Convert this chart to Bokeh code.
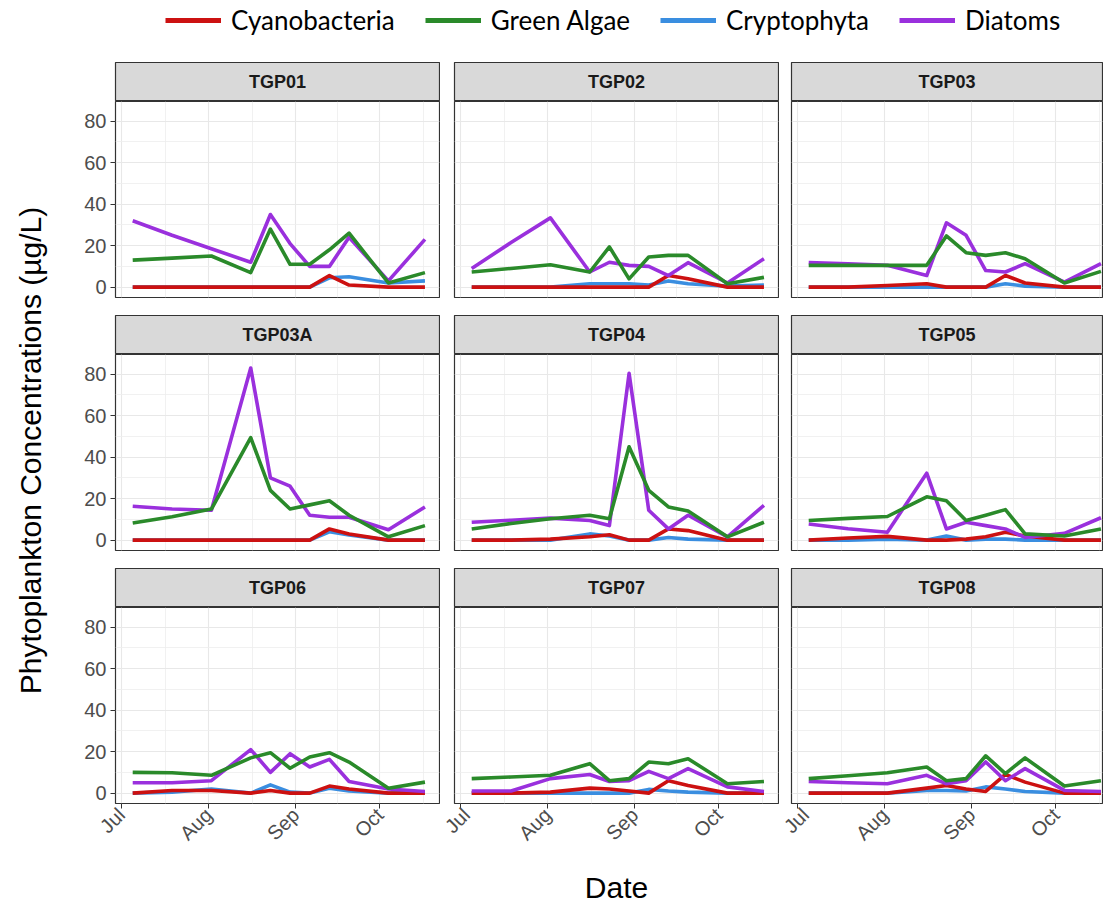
import pandas as pd
from math import pi
from bokeh.plotting import figure
from bokeh.layouts import column, row
from bokeh.models import (ColumnDataSource, FixedTicker, DatetimeTickFormatter, Grid,
                          Range1d, Legend, LegendItem)
from bokeh.core.properties import value
from bokeh.embed import file_html
from bokeh.resources import INLINE

# ---------------- data ----------------
SITES = ["TGP01", "TGP02", "TGP03", "TGP03A", "TGP04", "TGP05", "TGP06", "TGP07", "TGP08"]
DATES = ["2019-07-05", "2019-07-19", "2019-08-02", "2019-08-16", "2019-08-23", "2019-08-30",
         "2019-09-06", "2019-09-13", "2019-09-20", "2019-10-04", "2019-10-17"]
GROUPS = ["Cyanobacteria", "Green Algae", "Cryptophyta", "Diatoms"]
DRAW_ORDER = ["Cryptophyta", "Cyanobacteria", "Diatoms", "Green Algae"]
MONTH_TICKS = ["2019-07-01", "2019-08-01", "2019-09-01", "2019-10-01"]
MONTH_BOUNDS = ["2019-06-01", "2019-07-01", "2019-08-01", "2019-09-01", "2019-10-01", "2019-11-01"]
Y_TICKS = [0, 20, 40, 60, 80]
Y_MINOR = [10, 30, 50, 70]
Y_TITLE = "Phytoplankton Concentrations (µg/L)"
X_TITLE = "Date"

CYANOBACTERIA = {
    "TGP01":  [0, 0, 0, 0, 0, 0, 0, 5.6, 1, 0, 0],
    "TGP02":  [0, 0, 0, 0, 0, 0, 0, 5.6, 4, 0, 0],
    "TGP03":  [0, 0, 0.8, 1.6, 0, 0, 0, 5.6, 2, 0, 0],
    "TGP03A": [0, 0, 0, 0, 0, 0, 0, 5.4, 3, 0, 0],
    "TGP04":  [0, 0, 0.5, 1.6, 2.6, 0, 0, 5.4, 4.6, 0, 0],
    "TGP05":  [0, 1, 1.8, 0, 0, 0.5, 1.6, 3.8, 2, 0, 0],
    "TGP06":  [0, 1.3, 1.3, 0, 1.3, 0, 0, 3.4, 2, 0, 0],
    "TGP07":  [0, 0, 0.5, 2.4, 2, 1, 0, 6, 3.7, 0, 0],
    "TGP08":  [0, 0, 0, 2.4, 3.7, 2, 0.8, 9, 5.3, 0, 0],
}
GREEN_ALGAE = {
    "TGP01":  [13, 14, 15, 7, 28, 11, 11, 18, 26, 2, 7],
    "TGP02":  [7.3, 9, 10.8, 7.3, 19.4, 4, 14.5, 15.3, 15.3, 1.6, 4.7],
    "TGP03":  [10.5, 10.5, 10.5, 10.5, 24.7, 16.6, 15.3, 16.6, 13.7, 2, 7.6],
    "TGP03A": [8.3, 11.3, 15, 49.4, 24, 15, 17, 19, 12, 1.6, 7],
    "TGP04":  [5.4, 8, 10.3, 12, 10.3, 45, 24, 16, 14, 1.6, 8.6],
    "TGP05":  [9.5, 10.5, 11.4, 20.9, 19, 9.5, 12, 14.7, 3, 2, 5.4],
    "TGP06":  [10, 9.8, 8.6, 17, 19.5, 12, 17.4, 19.5, 15, 2.4, 5.3],
    "TGP07":  [7, 7.8, 8.6, 14.2, 6, 7, 15, 14.2, 16.6, 4.5, 5.6],
    "TGP08":  [7, 8.4, 9.8, 12.6, 6, 7, 18, 9.4, 17, 3.4, 6],
}
CRYPTOPHYTA = {
    "TGP01":  [0, 0, 0, 0, 0, 0, 0, 4.5, 5, 2, 3],
    "TGP02":  [0, 0, 0, 1.6, 1.6, 1.6, 1, 3, 1.6, 0.5, 1],
    "TGP03":  [0, 0, 0, 0, 0, 0, 0, 1.6, 0.5, 0, 0],
    "TGP03A": [0, 0, 0, 0, 0, 0, 0, 4, 2.5, 0, 0],
    "TGP04":  [0, 0, 0, 3, 2, 0, 0, 1.3, 0.5, 0, 0],
    "TGP05":  [0, 0, 0.5, 0, 2, 0, 0.5, 0.5, 0, 0, 0],
    "TGP06":  [0, 0.5, 2, 0, 4, 0.5, 0, 2.4, 1, 0, 0.5],
    "TGP07":  [0, 0, 0, 0, 0, 0, 1.8, 1, 0.5, 0, 0],
    "TGP08":  [0, 0, 0, 1.3, 1.3, 1, 3, 2, 0.8, 0, 0],
}
DIATOMS = {
    "TGP01":  [32, 25, 18.5, 12, 35, 21, 10, 10, 24, 3, 23],
    "TGP02":  [9, 21.5, 33.4, 7.3, 12, 10.5, 10, 5.6, 11.8, 2, 13.7],
    "TGP03":  [11.8, 11.3, 10.5, 5.6, 31, 25, 8, 7.3, 11.3, 2.4, 11.3],
    "TGP03A": [16.3, 15, 14.4, 83, 30, 26, 12, 11, 11, 5, 16],
    "TGP04":  [8.6, 9.6, 10.6, 9.5, 7, 80.4, 14.4, 5.4, 12, 1.6, 16.8],
    "TGP05":  [7.8, 5.5, 3.8, 32.3, 5.4, 8.6, 7, 5.4, 1.3, 3.3, 10.8],
    "TGP06":  [5, 5, 6, 21, 10, 19, 12.6, 16.3, 5.6, 2, 0.8],
    "TGP07":  [1, 1, 7, 9, 5.6, 6, 10.5, 7, 11.8, 3, 0.8],
    "TGP08":  [5.6, 5, 4.5, 8.6, 4.5, 6, 15, 6, 11.8, 1.3, 0.8],
}
SERIES = {"Cyanobacteria": CYANOBACTERIA, "Green Algae": GREEN_ALGAE,
          "Cryptophyta": CRYPTOPHYTA, "Diatoms": DIATOMS}
COLORS = {"Cyanobacteria": "#CC1111", "Green Algae": "#2A8A2A",
          "Cryptophyta": "#3A8EE0", "Diatoms": "#9A30DD"}

# ---------------- style / layout ----------------
FONT = "Liberation Sans"
LEG_FONT = "Lato"
YLAB_W = 60
COLS = [(55, 324, 1), (14, 324, 1), (12, 311, 1)]   # left border, frame width, right border
FRAME_H = 196
STRIP_H = 39
GAP = 18
PX_PER_DAY = 2.81

x_start = pd.Timestamp("2019-06-28 21:00")


def ms(t):
    return pd.Timestamp(t).value / 1e6


month_ms = [ms(t) for t in MONTH_TICKS]
bounds_ms = [ms(t) for t in MONTH_BOUNDS]
minor_ms = [(a + b) / 2 for a, b in zip(bounds_ms[:-1], bounds_ms[1:])]
xticker = FixedTicker(ticks=month_ms, minor_ticks=minor_ms)
yticker = FixedTicker(ticks=Y_TICKS, minor_ticks=Y_MINOR)
fmt = "%b"
xformatter = DatetimeTickFormatter(microseconds=fmt, milliseconds=fmt, seconds=fmt, minsec=fmt,
                                   minutes=fmt, hourmin=fmt, hours=fmt, days=fmt, months=fmt, years=fmt)

dates = pd.to_datetime(DATES)


def bare(p):
    p.xgrid.visible = False
    p.ygrid.visible = False
    return p


def make_strip(site, c):
    left, fw, right = COLS[c]
    s = figure(frame_width=fw, frame_height=STRIP_H, min_border_left=left, min_border_right=right,
               min_border_top=0, min_border_bottom=0, x_range=Range1d(0, 1), y_range=Range1d(0, 1),
               x_axis_location=None, y_axis_location=None, toolbar_location=None,
               output_backend="svg", background_fill_color="#D9D9D9",
               outline_line_color="#333333", outline_line_width=1.2)
    bare(s)
    s.text(x=[0.5], y=[0.5], text=[site], text_align="center", text_baseline="middle",
           text_font=value(FONT), text_font_style="bold", text_font_size="18px", text_color="#1A1A1A")
    return s


def make_panel(site, c, r):
    left, fw, right = COLS[c]
    x_end = x_start + pd.Timedelta(days=fw / PX_PER_DAY)
    p = figure(frame_width=fw, frame_height=FRAME_H, min_border_left=left, min_border_right=right,
               min_border_top=0, min_border_bottom=(GAP if r < 2 else 0),
               x_range=Range1d(x_start, x_end), y_range=Range1d(-5.0, 89.5),
               x_axis_type="datetime", x_axis_location=("below" if r == 2 else None),
               y_axis_location=("left" if c == 0 else None),
               toolbar_location=None, output_backend="svg",
               outline_line_color="#333333", outline_line_width=1.2, background_fill_color="white")
    bare(p)
    for dim, tk in ((0, xticker), (1, yticker)):
        g = Grid(dimension=dim, ticker=tk, grid_line_color="#E8E8E8", grid_line_width=1.1,
                 minor_grid_line_color="#EDEDED", minor_grid_line_width=0.8)
        p.add_layout(g, "center")

    src = ColumnDataSource(dict(date=dates, **{g: SERIES[g][site] for g in GROUPS}))
    for g in DRAW_ORDER:
        p.line(x="date", y=g, source=src, line_color=COLORS[g], line_width=3.6, line_join="round")

    if c == 0:
        ax = p.yaxis[0]
        ax.ticker = yticker
        ax.axis_line_color = None
        ax.major_tick_line_color = "#333333"
        ax.major_tick_out = 5
        ax.major_tick_in = 0
        ax.minor_tick_line_color = None
        ax.major_label_text_font = FONT
        ax.major_label_text_font_size = "20px"
        ax.major_label_text_color = "#4D4D4D"
        ax.major_label_standoff = 4
    if r == 2:
        ax = p.xaxis[0]
        ax.ticker = xticker
        ax.formatter = xformatter
        ax.axis_line_color = None
        ax.major_tick_line_color = "#333333"
        ax.major_tick_out = 5
        ax.major_tick_in = 0
        ax.minor_tick_line_color = None
        ax.major_label_orientation = pi / 4
        ax.major_label_text_font = FONT
        ax.major_label_text_font_size = "20px"
        ax.major_label_text_color = "#4D4D4D"
        ax.major_label_standoff = 3
        if c == 1:
            ax.axis_label = X_TITLE
            ax.axis_label_text_font = FONT
            ax.axis_label_text_font_size = "30px"
            ax.axis_label_text_font_style = "normal"
            ax.axis_label_text_color = "black"
            ax.axis_label_standoff = 16
    return p


# ---------------- legend ----------------
leg = figure(frame_width=1103, frame_height=62, min_border=0, x_range=Range1d(0, 1), y_range=Range1d(0, 1),
             x_axis_location=None, y_axis_location=None, toolbar_location=None, output_backend="svg",
             outline_line_color=None)
bare(leg)
nan = float("nan")
items = []
for g in GROUPS:
    rr = leg.line(x=[nan], y=[nan], line_color=COLORS[g], line_width=5)
    items.append(LegendItem(label=g, renderers=[rr]))
legend = Legend(items=items, orientation="horizontal", location=(165, 26), glyph_width=56,
                glyph_height=26, label_standoff=10, spacing=30, padding=0, margin=0,
                border_line_color=None, background_fill_alpha=0,
                label_text_font=LEG_FONT, label_text_font_size="26px", label_text_color="black",
                label_height=26)
leg.add_layout(legend, "center")

# ---------------- y title ----------------
ylab = figure(frame_width=YLAB_W, frame_height=776, min_border=0, x_range=Range1d(0, 1), y_range=Range1d(0, 1),
              x_axis_location=None, y_axis_location=None, toolbar_location=None, output_backend="svg",
              outline_line_color=None)
bare(ylab)
ylab.text(x=[0.5], y=[0.5], text=[Y_TITLE], angle=pi / 2, text_align="center", text_baseline="middle",
          text_font=value(FONT), text_font_size="30px", text_color="black")

rows = []
for r in range(3):
    strips = []
    panels = []
    for c in range(3):
        site = SITES[r * 3 + c]
        strips.append(make_strip(site, c))
        panels.append(make_panel(site, c, r))
    rows.append(row(*strips, spacing=0))
    rows.append(row(*panels, spacing=0))

grid = column(*rows, spacing=0)
layout = column(leg, row(ylab, grid, spacing=0), spacing=0)
open("out.html", "w").write(file_html(layout, INLINE))
